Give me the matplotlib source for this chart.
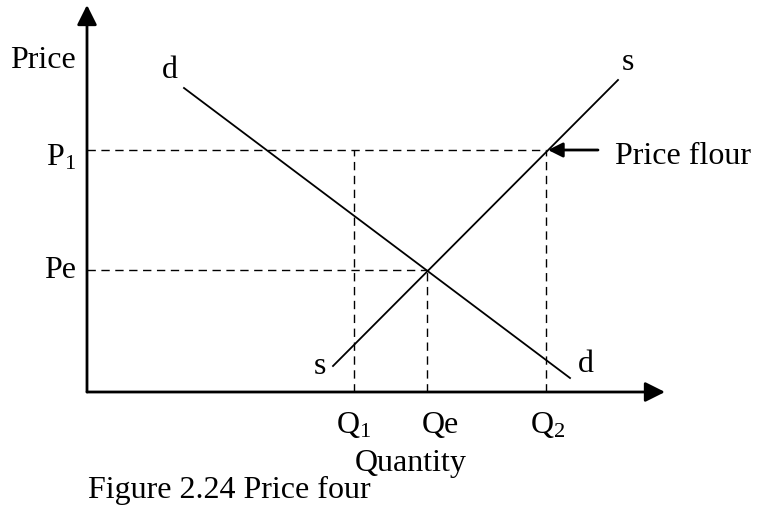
import matplotlib.pyplot as plt

plt.rcParams['font.family'] = 'Liberation Serif'
plt.rcParams['mathtext.fontset'] = 'custom'
plt.rcParams['mathtext.rm'] = 'Liberation Serif'
plt.rcParams['mathtext.it'] = 'Liberation Serif:italic'

# demand and supply lines (quantity, price)
demand_q = [9.7, 48.3]
demand_p = [30.4, 1.4]
supply_q = [24.6, 53.1]
supply_p = [2.6, 31.2]

# key levels
Pe = 12.2
Qe = 34.0
P1 = 24.2
Q1 = 26.7
Q2 = 45.9

x_max = 57.8
y_max = 38.7
FS = 23


def main():
    fig = plt.figure(figsize=(7.66, 5.21), dpi=100)
    ax = fig.add_axes([87 / 766, (521 - 392) / 521, (665 - 87) / 766, (392 - 5) / 521])
    ax.set_xlim(0, x_max)
    ax.set_ylim(0, y_max)
    ax.axis('off')

    # axes with arrow heads
    arrow = dict(arrowstyle='-|>', mutation_scale=30, lw=2.0, color='black',
                 shrinkA=0, shrinkB=0)
    ax.annotate('', xy=(0, y_max), xytext=(0, 0), arrowprops=arrow, annotation_clip=False)
    ax.annotate('', xy=(x_max, 0), xytext=(0, 0), arrowprops=arrow, annotation_clip=False)

    # curves
    ax.plot(demand_q, demand_p, color='black', lw=1.3)
    ax.plot(supply_q, supply_p, color='black', lw=1.3)

    # dashed guides
    dash = dict(color='black', lw=1.0, dashes=(6, 4))
    ax.plot([0, Q2], [P1, P1], **dash)
    ax.plot([0, Qe], [Pe, Pe], **dash)
    ax.plot([Q1, Q1], [0, P1], **dash)
    ax.plot([Qe, Qe], [0, Pe], **dash)
    ax.plot([Q2, Q2], [0, P1], **dash)

    # price floor pointer
    ax.annotate('', xy=(Q2 + 0.2, P1), xytext=(Q2 + 5.2, P1),
                arrowprops=dict(arrowstyle='-|>', mutation_scale=22, lw=2.0,
                                color='black', shrinkA=0, shrinkB=0))
    ax.text(Q2 + 6.9, P1 - 0.7, 'Price flour', fontsize=FS, ha='left', va='center')

    # labels
    ax.text(-1.1, 33.1, 'Price', fontsize=FS, ha='right', va='center')
    ax.text(-1.1, P1 - 0.8, r'P$_\mathrm{1}$', fontsize=FS, ha='right', va='center')
    ax.text(-1.1, Pe - 0.1, 'Pe', fontsize=FS, ha='right', va='center')
    ax.text(8.3, 32.1, 'd', fontsize=FS, ha='center', va='center')
    ax.text(54.1, 32.9, 's', fontsize=FS, ha='center', va='center')
    ax.text(23.3, 2.5, 's', fontsize=FS, ha='center', va='center')
    ax.text(49.9, 2.7, 'd', fontsize=FS, ha='center', va='center')

    ax.text(Q1, -3.3, r'Q$_\mathrm{1}$', fontsize=FS, ha='center', va='center')
    ax.text(Qe + 1.3, -3.3, 'Qe', fontsize=FS, ha='center', va='center')
    ax.text(Q2 + 0.2, -3.3, r'Q$_\mathrm{2}$', fontsize=FS, ha='center', va='center')
    ax.text(32.4, -7.1, 'Quantity', fontsize=FS, ha='center', va='center')
    ax.text(0.1, -9.8, 'Figure 2.24 Price four', fontsize=FS, ha='left', va='center')

    fig.savefig('out.png', dpi=100)


if __name__ == "__main__":
    main()
